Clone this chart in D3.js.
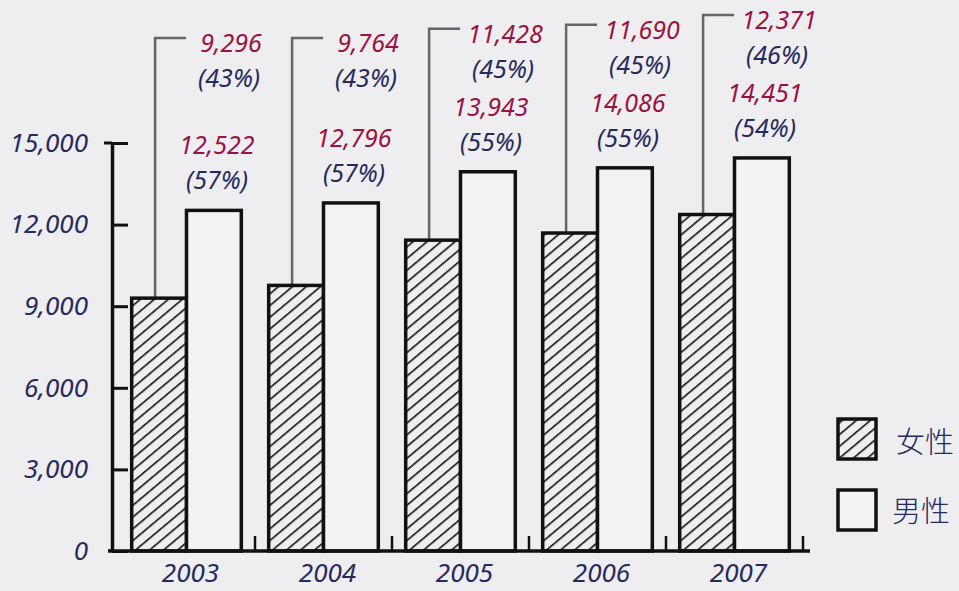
<!DOCTYPE html>
<html>
<head>
<meta charset="utf-8">
<script src="https://cdn.jsdelivr.net/npm/d3@7"></script>
<style>
  html, body { margin: 0; padding: 0; background: #eeedf0; }
  svg { display: block; }
</style>
</head>
<body>
<div id="chart"></div>
<script>
// values
const years = ["2003", "2004", "2005", "2006", "2007"];
const female = [9296, 9764, 11428, 11690, 12371];
const male = [12522, 12796, 13943, 14086, 14451];
const femalePct = ["43%", "43%", "45%", "45%", "46%"];
const malePct = ["57%", "57%", "55%", "55%", "54%"];
const yTicks = [0, 3000, 6000, 9000, 12000, 15000];
const legendLabels = ["女性", "男性"];

const W = 959, H = 591;
const red = "#9a1442", navy = "#262a5c";
const numFont = "'Noto Sans', 'DejaVu Sans', sans-serif";

const svg = d3.select("#chart").append("svg")
  .attr("width", W).attr("height", H);

// hatch for the female bars
const defs = svg.append("defs");
defs.append("pattern")
  .attr("id", "hatch")
  .attr("patternUnits", "userSpaceOnUse")
  .attr("width", 9).attr("height", 9)
  .attr("patternTransform", "rotate(50)")
  .append("line")
    .attr("x1", 0).attr("y1", 0).attr("x2", 0).attr("y2", 9)
    .attr("stroke", "#111").attr("stroke-width", 3.2);

const x = d3.scaleBand()
  .domain(years)
  .range([118, 803])
  .paddingInner(0.2)
  .paddingOuter(0.1);

const x1 = d3.scaleBand()
  .domain(["f", "m"])
  .range([0, x.bandwidth()]);

const y = d3.scaleLinear()
  .domain([0, 15000])
  .range([551, 143]);

// y axis
const yAxis = svg.append("g")
  .attr("transform", "translate(112,0)")
  .call(d3.axisLeft(y).tickValues(yTicks).tickFormat(d3.format(","))
    .tickSize(-16).tickSizeOuter(0).tickPadding(24));
yAxis.select(".domain").attr("stroke", "#111").attr("stroke-width", 3.5);
yAxis.selectAll(".tick line").attr("stroke", "#111").attr("stroke-width", 3);
// the top tick crosses the axis
yAxis.append("line")
  .attr("x1", -8).attr("x2", 0)
  .attr("y1", y(15000)).attr("y2", y(15000))
  .attr("stroke", "#111").attr("stroke-width", 3);
yAxis.selectAll(".tick text")
  .attr("fill", navy)
  .style("font-family", numFont)
  .style("font-style", "italic")
  .style("font-size", "26px");

const rows = years.map((yr, i) => ({
  yr, f: female[i], m: male[i], fp: femalePct[i], mp: malePct[i]
}));

// leader lines for the female callouts (drawn first, under bars)
const maleNumY = d => y(d.m) - 66;
const femaleNumY = d => Math.min(42, maleNumY(d) - 73);
const leaderX = d => x(d.yr) + x1("f") + x1.bandwidth() / 2 - 4;

svg.append("g").selectAll("path")
  .data(rows).join("path")
    .attr("d", d => {
      const lx = leaderX(d), ly = femaleNumY(d) - 4;
      return `M${lx},${y(d.f)} L${lx},${ly} L${lx + 31},${ly}`;
    })
    .attr("fill", "none")
    .attr("stroke", "#666")
    .attr("stroke-width", 2.5);

// bars
const g = svg.append("g").selectAll("g")
  .data(rows).join("g")
    .attr("transform", d => `translate(${x(d.yr)},0)`);

g.append("rect")
  .attr("x", x1("f")).attr("width", x1.bandwidth())
  .attr("y", d => y(d.f)).attr("height", d => y(0) - y(d.f))
  .attr("fill", "url(#hatch)")
  .attr("stroke", "#111").attr("stroke-width", 3.5);

g.append("rect")
  .attr("x", x1("m")).attr("width", x1.bandwidth())
  .attr("y", d => y(d.m)).attr("height", d => y(0) - y(d.m))
  .attr("fill", "#f3f2f4")
  .attr("stroke", "#111").attr("stroke-width", 3.5);

// baseline and small marks between groups
const base = svg.append("g");
base.append("line")
  .attr("x1", 108).attr("x2", x.range()[1] + 7)
  .attr("y1", y(0)).attr("y2", y(0))
  .attr("stroke", "#111").attr("stroke-width", 3.5);
base.selectAll(".sep")
  .data(years).join("line")
    .attr("class", "sep")
    .attr("x1", d => x(d) + x.bandwidth() + x.step() * x.paddingInner() / 2)
    .attr("x2", d => x(d) + x.bandwidth() + x.step() * x.paddingInner() / 2)
    .attr("y1", y(0)).attr("y2", y(0) - 15)
    .attr("stroke", "#111").attr("stroke-width", 2.5);

// year labels
const xAxis = svg.append("g")
  .attr("transform", `translate(4,${y(0)})`)
  .call(d3.axisBottom(x).tickSize(0).tickPadding(13));
xAxis.select(".domain").remove();
xAxis.selectAll(".tick text")
  .attr("fill", navy)
  .style("font-family", numFont)
  .style("font-style", "italic")
  .style("font-size", "26px");

// value labels
function label(sel, text, color, cx, cy) {
  sel.append("text")
    .attr("x", cx).attr("y", cy)
    .attr("text-anchor", "middle")
    .attr("dominant-baseline", "central")
    .attr("fill", color)
    .style("font-family", numFont)
    .style("font-style", "italic")
    .style("font-size", "25px")
    .text(text);
}

const fmt = d3.format(",");
const lbl = svg.append("g");
rows.forEach(d => {
  const mx = x(d.yr) + x1("m") + x1.bandwidth() / 2 + 3;
  label(lbl, fmt(d.m), red, mx, maleNumY(d));
  label(lbl, `(${d.mp})`, navy, mx, maleNumY(d) + 35);
  const fx = leaderX(d) + 76;
  const fy = femaleNumY(d);
  label(lbl, fmt(d.f), red, fx, fy);
  label(lbl, `(${d.fp})`, navy, fx - 2, fy + 35);
});

// legend
const legend = svg.append("g").attr("transform", "translate(838,0)");
legend.selectAll("rect")
  .data(legendLabels).join("rect")
    .attr("x", 0).attr("y", (d, i) => 419 + i * 71)
    .attr("width", 38).attr("height", 40)
    .attr("fill", (d, i) => i === 0 ? "url(#hatch)" : "#f3f2f4")
    .attr("stroke", "#111").attr("stroke-width", 3.5);
legend.selectAll("text")
  .data(legendLabels).join("text")
    .attr("x", (d, i) => i === 0 ? 58 : 54)
    .attr("y", (d, i) => 440 + i * 69)
    .attr("dominant-baseline", "central")
    .attr("fill", navy)
    .style("font-family", "'Noto Sans CJK SC', sans-serif")
    .style("font-weight", 300)
    .style("font-size", "29px")
    .text(d => d);
</script>
</body>
</html>
